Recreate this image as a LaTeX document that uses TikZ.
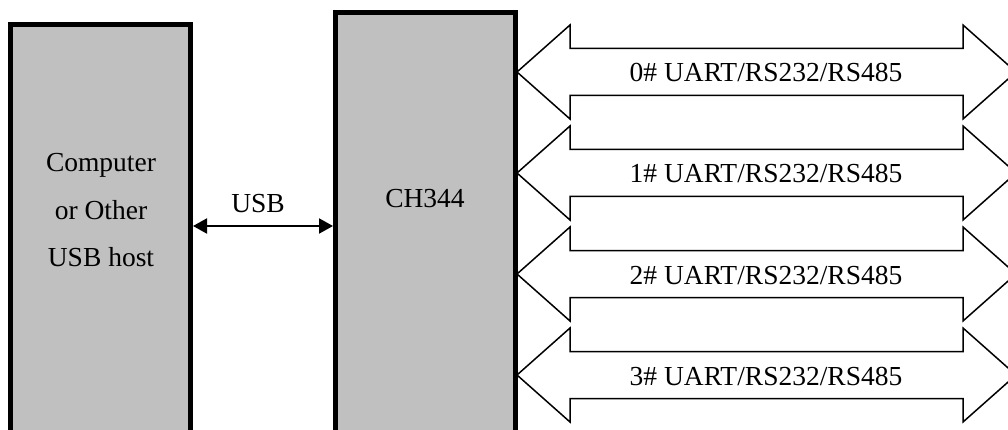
\documentclass[tikz,border=0pt]{standalone}
\usepackage{fontspec}
\setmainfont{Liberation Serif}
\usetikzlibrary{arrows.meta}
\definecolor{boxgray}{RGB}{192,192,192}

\begin{document}
\begin{tikzpicture}[x=1pt, y=-1pt]
      \tikzstyle{chipbox}=[draw=black, fill=boxgray, line width=5pt, minimum width=180pt, inner sep=0pt]
      \tikzstyle{txt}=[font=\fontsize{27.5}{33}\selectfont, inner sep=0pt, anchor=base]
      \tikzstyle{port}=[draw=black, fill=white, line width=1.5pt, line join=miter]
      \tikzstyle{usb}=[line width=2pt, {Triangle[length=14pt,width=15pt]}-{Triangle[length=14pt,width=15pt]}]

      \useasboundingbox (0,0) rectangle (1008,430);
      \clip (0,0) rectangle (1008,430);

      % serial ports
      \foreach \i in {0,...,3} {
        \pgfmathsetmacro{\cy}{72+101*\i}
        \draw[port] (517,\cy) -- (570,\cy-47) -- (570,\cy-23.5) -- (963,\cy-23.5) -- (963,\cy-47) -- (1016,\cy)
          -- (963,\cy+47) -- (963,\cy+23.5) -- (570,\cy+23.5) -- (570,\cy+47) -- cycle;
        \node[txt] (port\i) at (766,\cy+10) {\i\# UART/RS232/RS485};
      }

      \node[chipbox, minimum height=420pt] (host) at (100.5,234.5) {};
      \node[chipbox, minimum height=432pt] (chip) at (425.5,228.5) {};

      \foreach \t [count=\k] in {Computer, or Other, USB host}
        \node[txt] (host\k) at (101,125+47*\k) {\t};
      \node[txt] (chipname) at (425,208) {CH344};
      \node[txt] (usbname) at (258,213) {USB};

      \coordinate (usbc) at (0,226);
      \draw[usb] (host.east |- usbc) -- (chip.west |- usbc);
  \end{tikzpicture}
\end{document}
